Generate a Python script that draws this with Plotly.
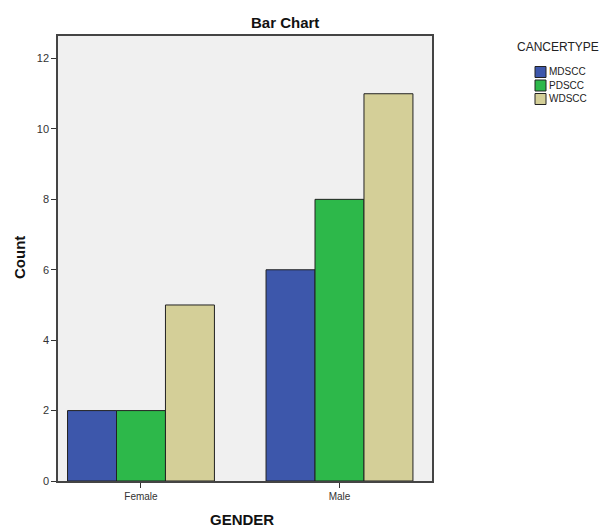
import plotly.graph_objects as go

genders = ["Female", "Male"]
cancer_types = ["MDSCC", "PDSCC", "WDSCC"]
mdscc = [2, 6]
pdscc = [2, 8]
wdscc = [5, 11]
colors = ["#3d57ab", "#2db84a", "#d4cf98"]
series = [mdscc, pdscc, wdscc]

OFF = 8  # page body margin
W, H = 613 - OFF, 529 - OFF
# plot area in window pixels, converted to figure pixels
L, R, T, B = 58 - OFF, 432 - OFF, 36 - OFF, 481 - OFF

fig = go.Figure()
for name, vals, col in zip(cancer_types, series, colors):
    fig.add_trace(go.Bar(
        x=genders, y=vals, name=name,
        marker=dict(color=col, line=dict(color="#222222", width=1)),
        showlegend=False,
    ))

def px_x(p):
    return (p - OFF - L) / (R - L)

def px_y(p):
    return (B - (p - OFF)) / (B - T)

shapes = []
annotations = []
annotations.append(dict(x=px_x(515), y=px_y(47), xref="paper", yref="paper",
                        text="CANCERTYPE", showarrow=False, xanchor="left", yanchor="middle",
                        font=dict(size=12, color="#222222")))
for i, (name, col) in enumerate(zip(cancer_types, colors)):
    cy = 72 + i * 13.5
    shapes.append(dict(type="rect", xref="paper", yref="paper",
                       x0=px_x(535), x1=px_x(546), y0=px_y(cy + 5.5), y1=px_y(cy - 5.5),
                       fillcolor=col, line=dict(color="#222222", width=1)))
    annotations.append(dict(x=px_x(547), y=px_y(cy), xref="paper", yref="paper",
                            text=name, showarrow=False, xanchor="left", yanchor="middle",
                            font=dict(size=10, color="#222222")))

annotations.append(dict(x=px_x(20), y=px_y(258), xref="paper", yref="paper",
                        text="<b>Count</b>", showarrow=False, textangle=-90,
                        xanchor="center", yanchor="middle",
                        font=dict(size=15, color="#111111")))
annotations.append(dict(x=px_x(242), y=px_y(520), xref="paper", yref="paper",
                        text="<b>GENDER</b>", showarrow=False,
                        xanchor="center", yanchor="middle",
                        font=dict(size=15, color="#111111")))
annotations.append(dict(x=px_x(285), y=px_y(22), xref="paper", yref="paper",
                        text="<b>Bar Chart</b>", showarrow=False,
                        xanchor="center", yanchor="middle",
                        font=dict(size=15, color="#111111")))

fig.update_layout(
    width=W, height=H,
    margin=dict(l=L, r=W - R, t=T, b=H - B, pad=0),
    paper_bgcolor="white",
    plot_bgcolor="#f0f0f0",
    barmode="group",
    bargap=0.26,
    bargroupgap=0,
    font=dict(family="Arial, Liberation Sans, sans-serif", color="#333333"),
    shapes=shapes,
    annotations=annotations,
    xaxis=dict(range=[-0.418, 1.466], showgrid=False, zeroline=False,
               showline=True, linecolor="#444444", linewidth=1.5, mirror=True,
               ticks="outside", ticklen=5, tickcolor="#333333",
               tickfont=dict(size=10, color="#333333")),
    yaxis=dict(range=[0, 12.64], tickvals=[0, 2, 4, 6, 8, 10, 12],
               showgrid=False, zeroline=False,
               showline=True, linecolor="#444444", linewidth=1.5, mirror=True,
               ticks="outside", ticklen=5, tickcolor="#333333",
               tickfont=dict(size=11, color="#333333")),
)

fig.write_html("out.html")
